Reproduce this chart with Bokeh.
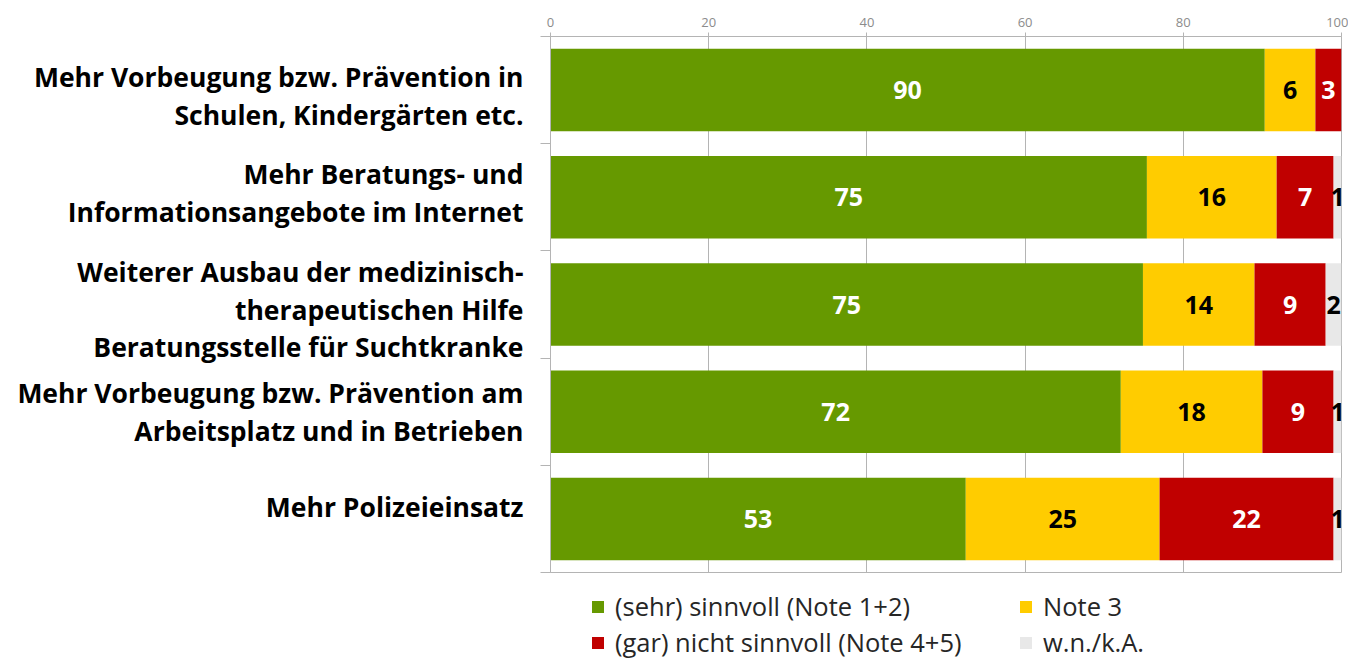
from bokeh.plotting import figure
from bokeh.layouts import column
from bokeh.models import (ColumnDataSource, Range1d, FixedTicker, LabelSet,
                          Legend, LegendItem)
from bokeh.embed import file_html
from bokeh.resources import INLINE
from bokeh.core.properties import value, field

# ---------------- data ----------------
categories = [
    "Mehr Vorbeugung bzw. Prävention in\nSchulen, Kindergärten etc.",
    "Mehr Beratungs- und\nInformationsangebote im Internet",
    "Weiterer Ausbau der medizinisch-\ntherapeutischen Hilfe\nBeratungsstelle für Suchtkranke",
    "Mehr Vorbeugung bzw. Prävention am\nArbeitsplatz und in Betrieben",
    "Mehr Polizeieinsatz",
]
sinnvoll = [90.3, 75.4, 74.9, 72.1, 52.5]
note3 = [6.4, 16.4, 14.1, 17.9, 24.5]
nicht_sinnvoll = [3.3, 7.2, 9.0, 9.0, 22.0]
wn_ka = [0.0, 1.0, 2.0, 1.0, 1.0]
series_names = ["(sehr) sinnvoll (Note 1+2)", "Note 3",
                "(gar) nicht sinnvoll (Note 4+5)", "w.n./k.A."]
x_ticks = [0, 20, 40, 60, 80, 100]

# ---------------- style ----------------
colors = ["#669900", "#FFCC00", "#C00000", "#E8E8E8"]
value_text_colors = ["white", "black", "white", "black"]
label_nudge_px = [6, -4, 5, 0, -12]     # vertical nudge of category labels (px, down)
px_per_cat = 107.2
grid_color = "#B4B4B4"
FONT = "Open Sans"

series = [sinnvoll, note3, nicht_sinnvoll, wn_ka]
keys = ["s0", "s1", "s2", "s3"]
n = len(categories)
ys = [i + 0.5 for i in range(n)]

data = {"y": ys}
for k, s in zip(keys, series):
    data[k] = s
src = ColumnDataSource(data)

p = figure(width=1348, height=574, x_range=Range1d(0, 100), y_range=Range1d(n, 0),
           output_backend="svg", toolbar_location=None, x_axis_location="above",
           min_border_left=550, min_border_right=7, min_border_top=36,
           min_border_bottom=2)
p.background_fill_color = "white"
p.border_fill_color = "white"
p.outline_line_color = grid_color

# x axis (top)
xa = p.xaxis[0]
xa.ticker = FixedTicker(ticks=x_ticks)
xa.major_tick_out = 4
xa.major_tick_in = 0
xa.minor_tick_out = 0
xa.minor_tick_in = 0
xa.axis_line_color = grid_color
xa.major_tick_line_color = grid_color
xa.major_label_text_color = "#8C8C8C"
xa.major_label_text_font = FONT
xa.major_label_text_font_size = "13px"
xa.major_label_standoff = 6

# y axis (left): labels at (nudged) category centres, minor ticks at boundaries
label_pos = [ys[i] + label_nudge_px[i] / px_per_cat for i in range(n)]
ya = p.yaxis[0]
ya.ticker = FixedTicker(ticks=label_pos, minor_ticks=list(range(n + 1)))
ya.major_label_overrides = {label_pos[i]: categories[i] for i in range(n)}
ya.major_tick_out = 0
ya.major_tick_in = 0
ya.minor_tick_out = 10
ya.minor_tick_in = 0
ya.axis_line_color = grid_color
ya.minor_tick_line_color = grid_color
ya.major_label_standoff = 17
ya.major_label_text_font = FONT
ya.major_label_text_font_style = "bold"
ya.major_label_text_font_size = "26.5px"
ya.major_label_text_color = "black"
ya.major_label_text_line_height = 1.053
ya.major_label_text_align = "right"

p.ygrid.visible = False
p.xgrid.grid_line_color = grid_color
p.xgrid.ticker = FixedTicker(ticks=x_ticks)

renderers = p.hbar_stack(keys, y="y", height=0.77, fill_color=colors,
                         line_color=None, source=src)

# value labels
lx, ly, lt, lc = [], [], [], []
for i in range(n):
    left = 0.0
    for j, s in enumerate(series):
        v = s[i]
        if v > 0:
            lx.append(left + v / 2)
            ly.append(ys[i])
            lt.append(str(int(v + 0.5 + 1e-9)))
            lc.append(value_text_colors[j])
        left += v
lsrc = ColumnDataSource(dict(x=lx, y=ly, t=lt, c=lc))
p.add_layout(LabelSet(x="x", y="y", text="t", source=lsrc, text_align="center",
                      text_baseline="middle", text_color=field("c"),
                      text_font=value(FONT), text_font_style="bold",
                      text_font_size="25px"))

# ---------------- legend (separate strip below the chart) ----------------
leg_h = 85
q = figure(width=1348, height=leg_h, x_range=Range1d(0, 791), y_range=Range1d(0, leg_h),
           output_backend="svg", toolbar_location=None,
           x_axis_type=None, y_axis_type=None,
           min_border_left=550, min_border_right=7, min_border_top=0, min_border_bottom=0)
q.outline_line_color = None
q.background_fill_color = "white"
q.border_fill_color = "white"
# zero-size legend handles (one per series, drawn with the series colours)
proxies = {nm: q.hbar(y=[0], left=[0], right=[0], height=0, fill_color=c, line_color=None)
           for nm, c in zip(series_names, colors)}
order = [0, 2, 1, 3]   # legend fills column by column
legend = Legend(items=[LegendItem(label=series_names[k], renderers=[proxies[series_names[k]]])
                       for k in order],
                location=(40, 0), ncols=2, glyph_width=15, glyph_height=15,
                label_standoff=10, label_height=22, label_width=401, spacing=2,
                padding=0, margin=0, border_line_color=None,
                background_fill_alpha=0, label_text_font=FONT,
                label_text_font_size="25.5px", label_text_color="#262626")
q.add_layout(legend)

layout = column(p, q, spacing=0)
open("out.html", "w").write(file_html(layout, INLINE))
